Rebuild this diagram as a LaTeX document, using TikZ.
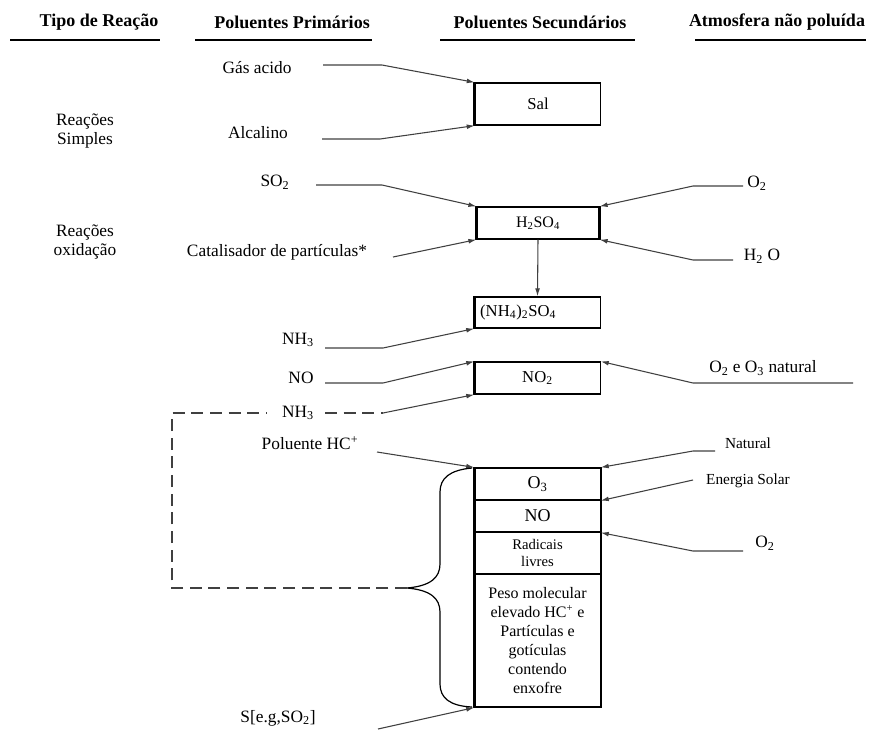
\documentclass[tikz,border=0pt]{standalone}
\usepackage{fontspec}
\setmainfont{Liberation Serif}
\usetikzlibrary{arrows.meta,positioning}

\begin{document}
\begin{tikzpicture}[
  x=0.75pt, y=-0.75pt,
  box/.style={draw, line width=0.9pt, minimum width=94pt, inner sep=0pt, font=\fontsize{12.5}{14}\selectfont},
  lbl/.style={inner sep=1pt, font=\fontsize{13}{14.5}\selectfont},
  small/.style={inner sep=1pt, font=\fontsize{11.5}{13}\selectfont},
  head/.style={inner sep=1pt, font=\fontsize{13.5}{15}\selectfont\bfseries},
  headrule/.style={line width=1.2pt},
  heavy/.style={line width=2pt},
  feed/.style={-{Latex[length=6pt,width=3.6pt]}, line width=0.8pt, black!75},
  dashline/.style={line width=0.8pt, black!75, dash pattern=on 9pt off 5pt},
]
  \useasboundingbox (0,0) rectangle (871,729);

  \node[head] (tipo) at (99,22) {Tipo de Reação};
  \node[head] (prim) at (292,22) {Poluentes Primários};
  \node[head] (sec) at (540,22) {Poluentes Secundários};
  \node[head] (atm) at (777,22) {Atmosfera não poluída};
  \draw[headrule] (10,40) -- (160,40);
  \draw[headrule] (195,40) -- (372,40);
  \draw[headrule] (440,40) -- (635,40);
  \draw[headrule] (695,40) -- (866,40);

  \node[box, minimum height=31.5pt] (sal) at (538,104) {Sal};
  \node[box, minimum width=91.5pt, minimum height=24pt, font=\fontsize{12}{13}\selectfont] (h2so4) at (538,223) {H\textsubscript{2}SO\textsubscript{4}};
  \node[box, minimum height=23.25pt, text width=86pt, inner xsep=4pt, align=left] (nh4) at (537.5,312.5) {(NH\textsubscript{4})\textsubscript{2}SO\textsubscript{4}};
  \node[box, minimum height=24pt] (no2) at (537.5,378) {NO\textsubscript{2}};
  \node[box, minimum height=24pt, font=\fontsize{13.5}{15}\selectfont] (o3cell) at (537.5,484) {O\textsubscript{3}};
  \node[box, minimum height=24pt, font=\fontsize{13.5}{15}\selectfont] (nocell) at (537.5,516) {NO};
  \node[box, minimum height=31.5pt, align=center, font=\fontsize{11}{13}\selectfont] (radcell) at (537.5,553) {Radicais\\livres};
  \node[box, minimum height=99.75pt, align=center, font=\fontsize{12}{14.25}\selectfont] (pesocell) at (537.5,640.5) {Peso molecular\\elevado\ HC\textsuperscript{+} e\\Partículas\ e\\gotículas\\contendo\\enxofre};

  \draw[heavy] (sal.north west) -- (sal.south west);
  \draw[heavy] (h2so4.north west) -- (h2so4.south west);
  \draw[heavy] (h2so4.north east) -- (h2so4.south east);
  \draw[heavy] (nh4.north west) -- (nh4.south west);
  \draw[heavy] (no2.north west) -- (no2.south west);
  \draw[heavy] (o3cell.north west) -- (pesocell.south west);
  \draw[line width=1.4pt] (o3cell.north east) -- (pesocell.south east);

  \node[lbl, align=center] (simples) at (85,131) {Reações\\Simples};
  \node[lbl, align=center] (oxid) at (85,242) {Reações\\oxidação};
  \node[lbl] (gas) at (257,68) {Gás acido};
  \node[lbl] (alc) at (258,133) {Alcalino};
  \node[lbl] (so2) at (275,182) {SO\textsubscript{2}};
  \node[lbl] (cat) at (277,252) {Catalisador de partículas*};
  \node[lbl] (o2a) at (757,183) {O\textsubscript{2}};
  \node[lbl] (h2o) at (762,256) {H\textsubscript{2} O};
  \node[lbl] (nh3a) at (298,340) {NH\textsubscript{3}};
  \node[lbl] (no) at (301,378) {NO};
  \node[lbl] (nh3b) at (298,413) {NH\textsubscript{3}};
  \node[lbl] (o2o3) at (763,368) {O\textsubscript{2} e O\textsubscript{3} natural};
  \node[lbl] (hc) at (310,443) {Poluente HC\textsuperscript{+}};
  \node[small] (nat) at (748,443) {Natural};
  \node[small] (sol) at (748,481) {Energia Solar};
  \node[lbl] (o2b) at (765,543) {O\textsubscript{2}};
  \node[lbl] (sso2) at (278,718) {S[e.g,SO\textsubscript{2}]};

  \coordinate (gasS) at (323,65);
  \coordinate (alcS) at (322,139);
  \coordinate (so2S) at (316,185);
  \coordinate (catS) at (393,257);
  \coordinate (o2aS) at (743,186);
  \coordinate (h2oS) at (733,260);
  \coordinate (nh3aS) at (325,348);
  \coordinate (noS) at (325,383);
  \coordinate (nh3bS) at (325,413);
  \coordinate (o2o3S) at (853,383);
  \coordinate (hcS) at (377,452);
  \coordinate (natS) at (715,451);
  \coordinate (solS) at (693,480);
  \coordinate (o2bS) at (743,551);
  \coordinate (sS) at (378,729);
  \coordinate (bracetip) at (407,588);
  \coordinate (loopcorner) at (172,588);

  \draw[feed] (gasS) -- ++(59,0) -- (sal.north west);
  \draw[feed] (alcS) -- ++(58,0) -- (sal.south west);
  \draw[feed] (so2S) -- ++(66,0) -- (h2so4.north west);
  \draw[feed] (catS) -- (h2so4.south west);
  \draw[feed] (o2aS) -- ++(-50,0) -- (h2so4.north east);
  \draw[feed] (h2oS) -- ++(-40,0) -- (h2so4.south east);
  \draw[feed] (h2so4.south) -- (nh4.north);
  \draw[feed] (nh3aS) -- ++(58,0) -- (nh4.south west);
  \draw[feed] (noS) -- ++(58,0) -- (no2.north west);
  \draw[dashline] (nh3bS) -- ++(58,0) coordinate (nh3bK);
  \draw[feed] (nh3bK) -- (no2.south west);
  \draw[feed] (o2o3S) -- ++(-160,0) -- (no2.north east);
  \draw[feed] (hcS) -- (o3cell.north west);
  \draw[feed] (natS) -- ++(-22,0) -- (o3cell.north east);
  \draw[feed] (solS) -- (o3cell.south east);
  \draw[feed] (o2bS) -- ++(-50,0) -- (nocell.south east);
  \draw[feed] (sS) -- (pesocell.south west);

  \draw[line width=0.9pt] (472,468) .. controls (450,470) and (440,478) .. (440,492) -- (440,564)
    .. controls (440,578) and (430,586) .. (bracetip)
    .. controls (430,590) and (440,598) .. (440,612) -- (440,684)
    .. controls (440,698) and (450,706) .. (472,707);
  \draw[dashline] (bracetip) -- (loopcorner) |- ([xshift=-10pt]nh3b.west);
\end{tikzpicture}
\end{document}
